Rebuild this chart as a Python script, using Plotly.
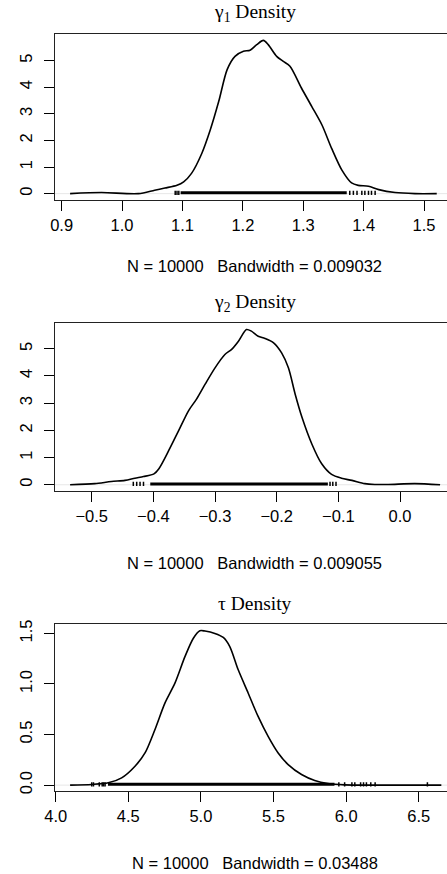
import plotly.graph_objects as go

# ---- data ----
g1_x = [0.914, 0.966, 1.027, 1.054, 1.071, 1.091, 1.102, 1.115, 1.132, 1.146, 1.160, 1.174, 1.187,
        1.201, 1.212, 1.223, 1.234, 1.242, 1.256, 1.267, 1.278, 1.297, 1.314, 1.331, 1.347, 1.364,
        1.380, 1.391, 1.408, 1.425, 1.452, 1.485, 1.521]
g1_y = [0.0, 0.04, 0.0, 0.13, 0.21, 0.31, 0.44, 0.76, 1.51, 2.39, 3.46, 4.66, 5.16,
        5.35, 5.39, 5.60, 5.76, 5.60, 5.16, 4.97, 4.79, 3.97, 3.28, 2.58, 1.70, 0.88,
        0.40, 0.31, 0.28, 0.15, 0.04, 0.0, 0.0]
g1_rug_band = [1.097, 1.372]
g1_rug_tail = [1.088, 1.091, 1.094, 1.377, 1.383, 1.389, 1.397, 1.402, 1.408, 1.413, 1.419]

g2_x = [-0.535, -0.495, -0.468, -0.446, -0.430, -0.416, -0.399, -0.391, -0.375, -0.359, -0.343,
        -0.330, -0.316, -0.300, -0.284, -0.273, -0.262, -0.249, -0.241, -0.230, -0.219, -0.205,
        -0.192, -0.181, -0.170, -0.159, -0.143, -0.127, -0.111, -0.095, -0.078, -0.057, -0.041,
        -0.019, 0.024, 0.065]
g2_y = [0.0, 0.04, 0.12, 0.16, 0.24, 0.30, 0.40, 0.59, 1.26, 1.99, 2.72,
        3.15, 3.70, 4.30, 4.79, 4.98, 5.28, 5.71, 5.65, 5.46, 5.38, 5.22,
        4.85, 4.30, 3.33, 2.48, 1.50, 0.77, 0.38, 0.24, 0.16, 0.04, 0.01,
        0.01, 0.04, 0.0]
g2_rug_band = [-0.405, -0.117]
g2_rug_tail = [-0.4325, -0.427, -0.4216, -0.416, -0.1135, -0.109, -0.1038]

tau_x = [4.099, 4.248, 4.362, 4.454, 4.546, 4.615, 4.683, 4.752, 4.821, 4.890, 4.947, 4.993,
         5.028, 5.096, 5.154, 5.199, 5.257, 5.326, 5.394, 5.463, 5.532, 5.601, 5.693, 5.784,
         5.876, 5.990, 6.197, 6.656]
tau_y = [0.0, 0.007, 0.023, 0.072, 0.187, 0.318, 0.548, 0.811, 1.008, 1.27, 1.45, 1.526,
         1.523, 1.50, 1.46, 1.37, 1.14, 0.909, 0.679, 0.482, 0.318, 0.203, 0.105, 0.046,
         0.016, 0.003, 0.0, 0.0]
tau_rug_band = [4.36, 5.92]
tau_rug_tail = [4.248, 4.26, 4.30, 4.32, 4.33, 4.34, 5.95, 5.99, 6.04, 6.06, 6.10, 6.12, 6.14,
                6.17, 6.20, 6.56]

NB3 = "\u00a0\u00a0\u00a0"
titles = ["γ<sub>1</sub> Density", "γ<sub>2</sub> Density", "τ Density"]
subtitles = ["N = 10000" + NB3 + "Bandwidth = 0.009032",
             "N = 10000" + NB3 + "Bandwidth = 0.009055",
             "N = 10000" + NB3 + "Bandwidth = 0.03488"]
x_ticks = [[0.9, 1.0, 1.1, 1.2, 1.3, 1.4, 1.5],
           [-0.5, -0.4, -0.3, -0.2, -0.1, 0.0],
           [4.0, 4.5, 5.0, 5.5, 6.0, 6.5]]
x_ticktext = [["0.9", "1.0", "1.1", "1.2", "1.3", "1.4", "1.5"],
              ["\u22120.5", "\u22120.4", "\u22120.3", "\u22120.2", "\u22120.1", "0.0"],
              ["4.0", "4.5", "5.0", "5.5", "6.0", "6.5"]]
y_ticks = [[0, 1, 2, 3, 4, 5], [0, 1, 2, 3, 4, 5], [0.0, 0.5, 1.0, 1.5]]
y_ticktext = [["0", "1", "2", "3", "4", "5"], ["0", "1", "2", "3", "4", "5"],
              ["0.0", "0.5", "1.0", "1.5"]]

# ---- layout geometry ----
W, H = 447, 874
x_ranges = [[0.889, 1.538], [-0.5595, 0.0762], [3.995, 6.695]]
y_ranges = [[-0.24, 6.0], [-0.23, 5.96], [-0.055, 1.59]]
box_px = [(34, 200), (322.7, 491), (624.3, 790.7)]  # top, bottom in pixels
title_px = [13, 303.5, 603]
sub_px = [266, 562.5, 862.5]
left_px = 55
center_px = 255

series = [(g1_x, g1_y, g1_rug_band, g1_rug_tail),
          (g2_x, g2_y, g2_rug_band, g2_rug_tail),
          (tau_x, tau_y, tau_rug_band, tau_rug_tail)]

fig = go.Figure()
sans = "Liberation Sans, Arial, Helvetica, sans-serif"
serif = "Liberation Serif, Times New Roman, serif"

for i, (xs, ys, band, tail) in enumerate(series):
    ax = "" if i == 0 else str(i + 1)
    xref, yref = "x" + ax, "y" + ax
    rug_y = max(ys) / 200.0
    fig.add_trace(go.Scatter(x=xs, y=ys, mode="lines",
                             line=dict(color="black", width=1.6, shape="spline", smoothing=0.8),
                             xaxis=xref, yaxis=yref, showlegend=False, hoverinfo="skip"))
    fig.add_trace(go.Scatter(x=band, y=[rug_y, rug_y], mode="lines", line=dict(color="black", width=3),
                             xaxis=xref, yaxis=yref, showlegend=False, hoverinfo="skip"))
    fig.add_trace(go.Scatter(x=tail, y=[rug_y] * len(tail), mode="markers",
                             marker=dict(symbol="line-ns", size=3, line=dict(color="black", width=1.5)),
                             xaxis=xref, yaxis=yref, showlegend=False, hoverinfo="skip"))
    top, bot = box_px[i]
    dom = [1 - bot / H, 1 - top / H]
    fig.layout["xaxis" + ax] = dict(
        domain=[left_px / W, 1], range=x_ranges[i], anchor=yref,
        tickvals=x_ticks[i], ticktext=x_ticktext[i], ticks="outside", ticklen=10, tickwidth=1,
        tickcolor="black", showline=True, linecolor="#222", linewidth=1.3, mirror=True,
        showgrid=False, zeroline=False, tickfont=dict(family=sans, size=16.5, color="black"),
        ticklabelstandoff=0, automargin=False)
    fig.layout["yaxis" + ax] = dict(
        domain=dom, range=y_ranges[i], anchor=xref,
        tickvals=y_ticks[i], ticktext=y_ticktext[i], ticks="outside", ticklen=10, tickwidth=1,
        tickcolor="black", showline=True, linecolor="#222", linewidth=1.3, mirror=False,
        showgrid=False, zeroline=False, tickangle=-90,
        tickfont=dict(family=sans, size=16.5, color="black"), ticklabelstandoff=5, automargin=False)
    fig.add_shape(type="line", xref=xref + " domain", x0=0, x1=1, yref=yref, y0=0, y1=0,
                  line=dict(color="#dddddd", width=0.7), layer="below")
    fig.add_annotation(text=titles[i], x=center_px / W, y=1 - title_px[i] / H, xref="paper", yref="paper",
                       showarrow=False, xanchor="center", yanchor="middle",
                       font=dict(family=serif, size=19.5, color="black"))
    fig.add_annotation(text=subtitles[i], x=center_px / W, y=1 - sub_px[i] / H, xref="paper", yref="paper",
                       showarrow=False, xanchor="center", yanchor="middle",
                       font=dict(family=sans, size=16.5, color="black"))

fig.update_layout(width=W, height=H, margin=dict(l=0, r=0, t=0, b=0),
                  paper_bgcolor="white", plot_bgcolor="white")
fig.write_html("out.html")
